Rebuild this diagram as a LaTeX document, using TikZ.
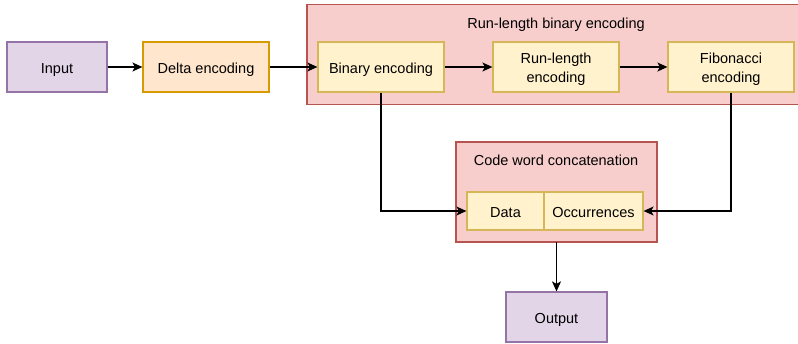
\documentclass[tikz,border=0pt]{standalone}
\usepackage{fontspec}
\setmainfont{Liberation Sans}
\usetikzlibrary{arrows.meta}
\definecolor{pfill}{HTML}{E1D5E7}\definecolor{pdraw}{HTML}{9673A6}
\definecolor{ofill}{HTML}{FFE6CC}\definecolor{odraw}{HTML}{D79B00}
\definecolor{rfill}{HTML}{F8CECC}\definecolor{rdraw}{HTML}{B85450}
\definecolor{yfill}{HTML}{FFF2CC}\definecolor{ydraw}{HTML}{D6B656}
\begin{document}
\begin{tikzpicture}[x=1pt,y=-1pt,
  every node/.style={font=\fontsize{14.5}{18.5}\selectfont, align=center, inner sep=0pt,
    text height=13pt, text depth=1pt},
  twoline/.style={text height=31pt, text depth=1pt},
  box/.style={draw, line width=1.2pt, minimum width=#1, minimum height=50pt},
  pbox/.style={box=#1, fill=pfill, draw=pdraw},
  obox/.style={box=#1, fill=ofill, draw=odraw},
  ybox/.style={box=#1, fill=yfill, draw=ydraw},
  cont/.style={fill=rfill, draw=rdraw, line width=1.2pt},
  conn/.style={-{Stealth[length=10pt,width=9pt,inset=2.5pt]}, line width=1.2pt, black}]
\useasboundingbox (0,0) rectangle (798,343);
% containers
\draw[cont] (307,4.5) rectangle (806,104.5);
\node at (556,22) {Run-length binary encoding};
\draw[cont] (456,142) rectangle (657,242);
\node at (556,159) {Code word concatenation};
\coordinate (cwbot) at (556.5,242);
% nodes
\node[pbox=100pt] (input) at (57,67) {Input};
\node[obox=126pt] (delta) at (206,67) {Delta encoding};
\node[ybox=126pt] (bin) at (381,67) {Binary encoding};
\node[ybox=126pt, twoline] (rle) at (556,67) {Run-length\\encoding};
\node[ybox=126pt, twoline] (fib) at (731,67) {Fibonacci\\encoding};
\node[ybox=77pt, minimum height=38pt] (data) at (505.5,211) {Data};
\node[ybox=99pt, minimum height=38pt] (occ) at (593.5,211) {Occurrences};
\node[pbox=101pt] (output) at (556.5,317) {Output};
% connectors
\draw[conn] (input) -- (delta);
\draw[conn] (delta) -- (bin);
\draw[conn] (bin) -- (rle);
\draw[conn] (rle) -- (fib);
\draw[conn] (bin.south) |- (data.west);
\draw[conn] (fib.south) |- (occ.east);
\draw[conn] (cwbot) -- (output.north);
\end{tikzpicture}
\end{document}
